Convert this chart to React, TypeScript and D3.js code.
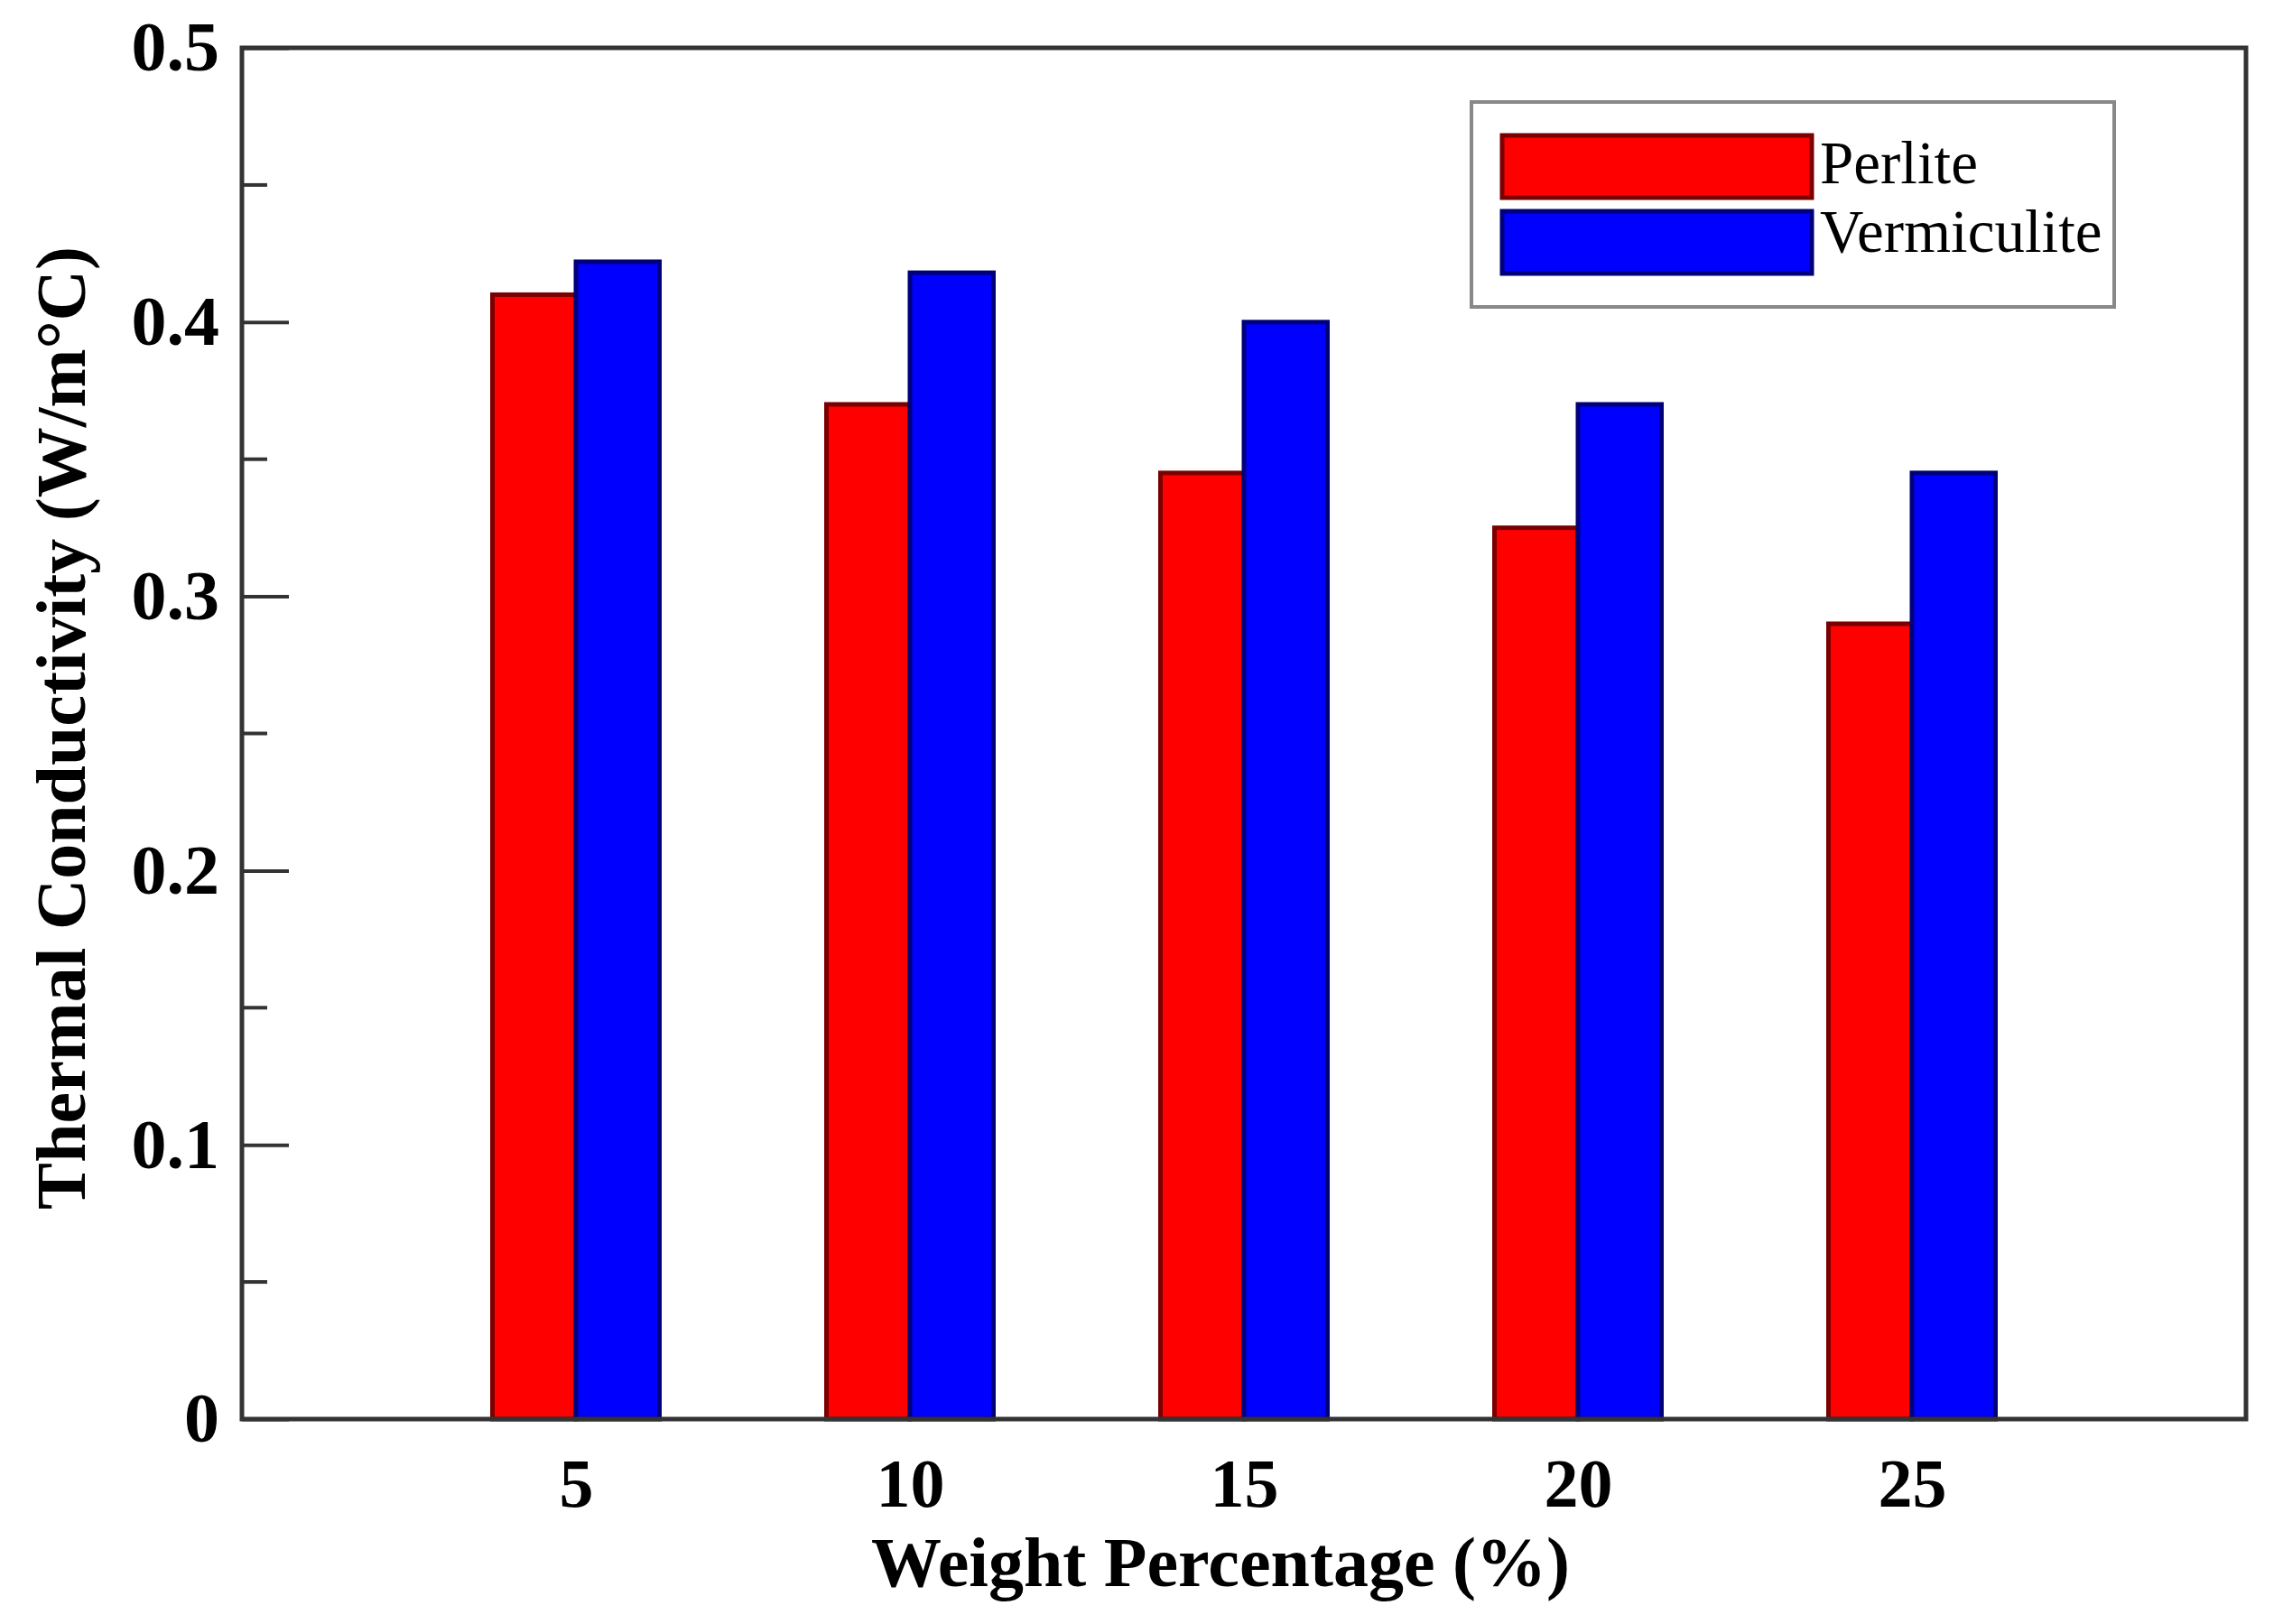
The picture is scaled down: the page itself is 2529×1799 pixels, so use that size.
import * as d3 from "d3"
import { useEffect, useRef } from "react"

const categories = [5, 10, 15, 20, 25]
const perlite = [0.41, 0.37, 0.345, 0.325, 0.29]
const vermiculite = [0.422, 0.418, 0.4, 0.37, 0.345]
const seriesNames = ["Perlite", "Vermiculite"]
const yMajorTicks = [0, 0.1, 0.2, 0.3, 0.4, 0.5]
const yMinorTicks = [0.05, 0.15, 0.25, 0.35, 0.45]

const FILLS = ["#ff0000", "#0000ff"]
const EDGES = ["#7a0000", "#00007a"]
const FONT = "'Liberation Serif', 'Times New Roman', serif"

export default function App() {
  const ref = useRef<SVGSVGElement>(null)

  useEffect(() => {
    if (!ref.current) return
    const W = 2529
    const H = 1799
    const left = 268
    const right = 2488
    const top = 53
    const bottom = 1572

    const svg = d3.select(ref.current)
    svg.selectAll("*").remove()
    svg.attr("width", W).attr("height", H)

    svg.append("rect").attr("width", W).attr("height", H).attr("fill", "#fff")

    const x = d3.scaleLinear().domain([0, 30]).range([left, right])
    const y = d3.scaleLinear().domain([0, 0.5]).range([bottom, top])
    const bw = x(1.25) - x(0)

    const data = [perlite, vermiculite]

    data.forEach((vals, s) => {
      svg
        .append("g")
        .selectAll("rect")
        .data(vals)
        .enter()
        .append("rect")
        .attr("x", (_, i) => (s === 0 ? x(categories[i]) - bw : x(categories[i])))
        .attr("y", (d) => y(d))
        .attr("width", bw)
        .attr("height", (d) => y(0) - y(d))
        .attr("fill", FILLS[s])
        .attr("stroke", EDGES[s])
        .attr("stroke-width", 5)
    })

    // minor ticks
    svg
      .append("g")
      .selectAll("line")
      .data(yMinorTicks)
      .enter()
      .append("line")
      .attr("x1", left)
      .attr("x2", left + 28)
      .attr("y1", (d) => y(d))
      .attr("y2", (d) => y(d))
      .attr("stroke", "#333")
      .attr("stroke-width", 4)

    const yAxis = svg
      .append("g")
      .attr("transform", `translate(${left},0)`)
      .call(
        d3
          .axisLeft(y)
          .tickValues(yMajorTicks)
          .tickSize(-52)
          .tickPadding(25)
          .tickFormat((d) => (+d === 0 ? "0" : d3.format(".1f")(+d))),
      )
    yAxis.select(".domain").remove()
    yAxis.selectAll("line").attr("stroke", "#333").attr("stroke-width", 4)
    yAxis
      .selectAll("text")
      .attr("font-family", FONT)
      .attr("font-weight", "bold")
      .attr("font-size", 78)
      .attr("fill", "#000")

    const xAxis = svg
      .append("g")
      .attr("transform", `translate(0,${bottom})`)
      .call(d3.axisBottom(x).tickValues(categories).tickSize(0).tickPadding(43))
    xAxis.select(".domain").remove()
    xAxis
      .selectAll("text")
      .attr("font-family", FONT)
      .attr("font-weight", "bold")
      .attr("font-size", 76)
      .attr("fill", "#000")

    // frame
    svg
      .append("rect")
      .attr("x", left)
      .attr("y", top)
      .attr("width", right - left)
      .attr("height", bottom - top)
      .attr("fill", "none")
      .attr("stroke", "#333")
      .attr("stroke-width", 5)

    svg
      .append("text")
      .attr("x", 1352)
      .attr("y", 1757)
      .attr("text-anchor", "middle")
      .attr("font-family", FONT)
      .attr("font-weight", "bold")
      .attr("font-size", 78)
      .text("Weight Percentage (%)")

    svg
      .append("text")
      .attr("transform", `translate(94,${(top + bottom) / 2 - 6}) rotate(-90)`)
      .attr("text-anchor", "middle")
      .attr("font-family", FONT)
      .attr("font-weight", "bold")
      .attr("font-size", 78)
      .text("Thermal Conductivity (W/m°C)")

    // legend
    const lg = svg.append("g")
    lg.append("rect")
      .attr("x", 1630)
      .attr("y", 113)
      .attr("width", 2342 - 1630)
      .attr("height", 340 - 113)
      .attr("fill", "#fff")
      .attr("stroke", "#888")
      .attr("stroke-width", 4)

    seriesNames.forEach((name, i) => {
      const sy = 150 + i * 84
      lg.append("rect")
        .attr("x", 1664)
        .attr("y", sy)
        .attr("width", 2007 - 1664)
        .attr("height", 69)
        .attr("fill", FILLS[i])
        .attr("stroke", EDGES[i])
        .attr("stroke-width", 5)
      lg.append("text")
        .attr("x", 2016)
        .attr("y", 203 + i * 76)
        .attr("font-family", FONT)
        .attr("font-size", 67)
        .attr("fill", "#000")
        .text(name)
    })
  }, [])

  return (
    <svg
      ref={ref}
      style={{ position: "absolute", left: 0, top: 0, display: "block" }}
    />
  )
}
